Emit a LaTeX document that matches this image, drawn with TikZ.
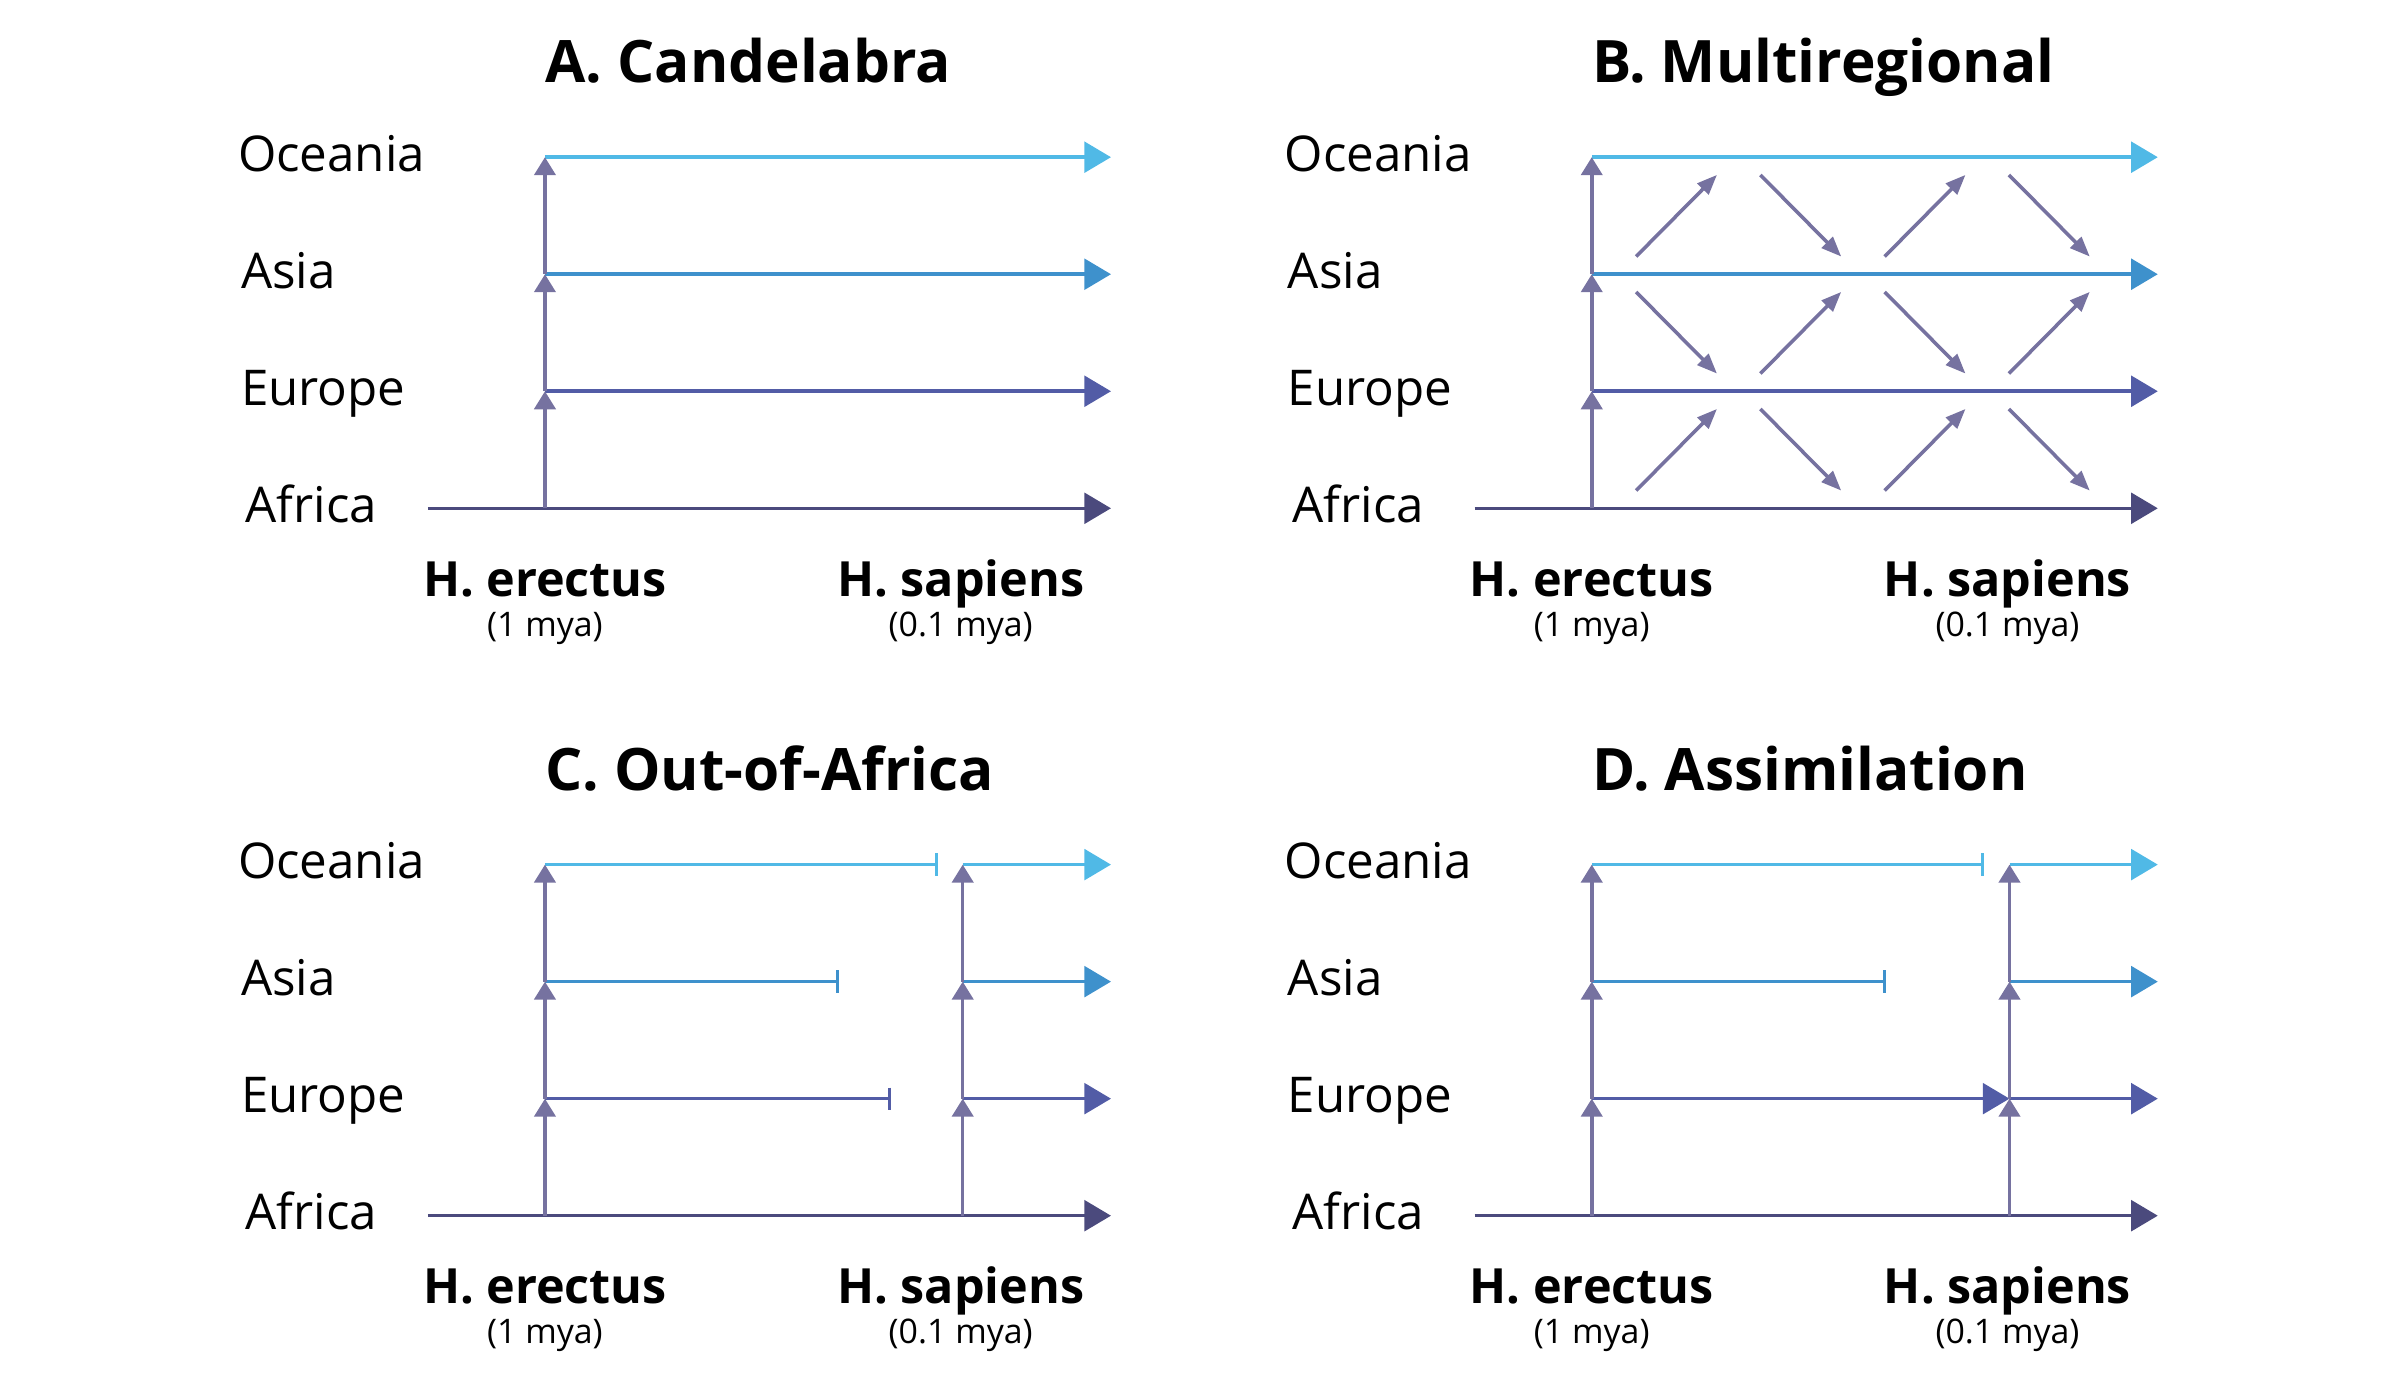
\documentclass[tikz,border=0pt]{standalone}
\usepackage{fontspec}
\setmainfont{Open Sans}
\usepackage{tikz}
\usetikzlibrary{arrows.meta}

\definecolor{oceania}{HTML}{50B9E6}
\definecolor{asia}{HTML}{3E91CC}
\definecolor{europe}{HTML}{525CA6}
\definecolor{africa}{HTML}{4B4A7D}
\definecolor{riser}{HTML}{7672A0}

\tikzset{
  lane/.style={line width=2.3pt, -{Triangle[length=17.3pt,width=19.9pt]}},
  stopped/.style={line width=2.3pt, -{Bar[width=14.5pt,line width=2pt]}},
  riser/.style={line width=2.3pt, draw=riser, -{Triangle[length=11.7pt,width=13.8pt]}},
  flow/.style={line width=2.3pt, draw=riser, -{Triangle[length=13pt,width=10pt]}},
  region/.style={anchor=base west, inner sep=0pt, font=\fontsize{32}{38}\selectfont},
  paneltitle/.style={anchor=base west, inner sep=0pt, font=\bfseries\fontsize{38}{44}\selectfont},
  species/.style={anchor=base, inner sep=0pt, font=\bfseries\fontsize{31.5}{36}\selectfont},
  mya/.style={anchor=base, inner sep=0pt, font=\fontsize{22}{26}\selectfont},
}

% region labels, time labels and the Africa line of one panel
\newcommand{\panelframe}[1]{%
  \node[paneltitle] (title) at (0,276.4) {#1};
  \node[region] (oce) at (-199.5,219) {Oceania};
  \node[region] (asi) at (-197.5,143) {Asia};
  \node[region] (eur) at (-197.5,67) {Europe};
  \node[region] (afr) at (-194.5,-9) {Africa};
  \node[species] (erectus) at (0,-57) {H. erectus};
  \node[mya] (erectusage) at (0,-83) {(1 mya)};
  \node[species] (sapiens) at (270,-57) {H. sapiens};
  \node[mya] (sapiensage) at (270,-83) {(0.1 mya)};
  \coordinate (a0) at (-76,0);
  \coordinate (e0) at (0,0);
  \coordinate (e1) at (0,76);
  \coordinate (e2) at (0,152);
  \coordinate (e3) at (0,228);
  \coordinate (s0) at (271.3,0);
  \coordinate (s1) at (271.3,76);
  \coordinate (s2) at (271.3,152);
  \coordinate (s3) at (271.3,228);
  \coordinate (t0) at (367.6,0);
  \coordinate (t1) at (367.6,76);
  \coordinate (t2) at (367.6,152);
  \coordinate (t3) at (367.6,228);
  \draw[lane, africa] (a0) -- (t0);
}

\begin{document}
\begin{tikzpicture}[x=1pt,y=1pt]

\useasboundingbox (0,0) rectangle (1556,904);

% A. Candelabra
\begin{scope}[shift={(353.9,573.9)}]
\panelframe{A. Candelabra}
\draw[lane, europe]  (e1) -- (t1);
\draw[lane, asia]    (e2) -- (t2);
\draw[lane, oceania] (e3) -- (t3);
\draw[riser] (e0) -- (e1);
\draw[riser] (e1) -- (e2);
\draw[riser] (e2) -- (e3);
\end{scope}

% B. Multiregional
\begin{scope}[shift={(1033.7,573.9)}]
\panelframe{B. Multiregional}
\draw[lane, europe]  (e1) -- (t1);
\draw[lane, asia]    (e2) -- (t2);
\draw[lane, oceania] (e3) -- (t3);
\draw[riser] (e0) -- (e1);
\draw[riser] (e1) -- (e2);
\draw[riser] (e2) -- (e3);
% gene flow between neighbouring regions
\foreach \b in {0,1,2} {
  \foreach \x [count=\c] in {28.8,109.5,190.2,270.9} {
    \pgfmathtruncatemacro{\flip}{mod(\b+\c,2)}
    \pgfmathsetmacro{\ylo}{\b*76+11.5}
    \pgfmathsetmacro{\yhi}{(\b+1)*76-11.5}
    \pgfmathsetmacro{\xr}{\x+52.5}
    \ifnum\flip=1
      \coordinate (from) at (\x,\ylo);
      \coordinate (to) at (\xr,\yhi);
    \else
      \coordinate (from) at (\x,\yhi);
      \coordinate (to) at (\xr,\ylo);
    \fi
    \draw[flow] (from) -- (to);
  }
}
\end{scope}

% C. Out-of-Africa
\begin{scope}[shift={(353.9,114.5)}]
\panelframe{C. Out-of-Africa}
\coordinate (eurend) at (225,76);
\coordinate (asiend) at (191,152);
\coordinate (oceend) at (255,228);
\draw[stopped, europe]  (e1) -- (eurend);
\draw[stopped, asia]    (e2) -- (asiend);
\draw[stopped, oceania] (e3) -- (oceend);
\draw[lane, europe]  (s1) -- (t1);
\draw[lane, asia]    (s2) -- (t2);
\draw[lane, oceania] (s3) -- (t3);
\draw[riser] (e0) -- (e1);
\draw[riser] (e1) -- (e2);
\draw[riser] (e2) -- (e3);
\draw[riser] (s0) -- (s1);
\draw[riser] (s1) -- (s2);
\draw[riser] (s2) -- (s3);
\end{scope}

% D. Assimilation
\begin{scope}[shift={(1033.7,114.5)}]
\panelframe{D. Assimilation}
\coordinate (asiend) at (191,152);
\coordinate (oceend) at (255,228);
\draw[lane, europe]     (e1) -- (s1);
\draw[stopped, asia]    (e2) -- (asiend);
\draw[stopped, oceania] (e3) -- (oceend);
\draw[lane, europe]  (s1) -- (t1);
\draw[lane, asia]    (s2) -- (t2);
\draw[lane, oceania] (s3) -- (t3);
\draw[riser] (e0) -- (e1);
\draw[riser] (e1) -- (e2);
\draw[riser] (e2) -- (e3);
\draw[riser] (s0) -- (s1);
\draw[riser] (s1) -- (s2);
\draw[riser] (s2) -- (s3);
\end{scope}

\end{tikzpicture}
\end{document}
